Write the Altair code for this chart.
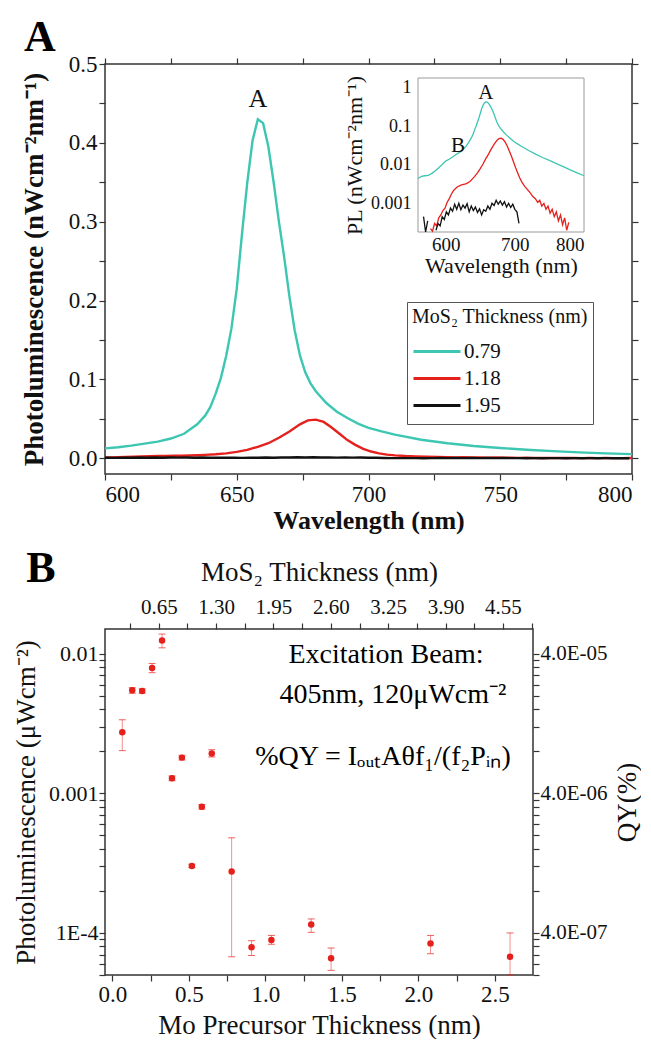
import altair as alt
import pandas as pd

FONT = "Liberation Serif"
INK = "#111111"
FRAME = "#333333"

# ---------------- Panel A data ----------------
SERIES = ["0.79", "1.18", "1.95"]
COLORS = ["#3dc6b1", "#e5211d", "#111111"]

TEAL_WL = [550, 555, 560, 565, 570, 575, 580, 585, 590, 595,
           600, 605, 610, 615, 620, 625, 630, 635, 638, 640,
           642, 644, 646, 648, 650, 652, 654, 656, 658, 660,
           662, 664, 666, 668, 670, 672, 674, 676, 678, 680,
           684, 688, 692, 696, 700, 705, 710, 720, 730, 740,
           750, 760, 770, 780, 790, 800]
TEAL_PL = [0.0036, 0.0040, 0.0044, 0.0050, 0.0052, 0.0053, 0.0060, 0.0070, 0.0084, 0.0102,
           0.0125, 0.0140, 0.0160, 0.0185, 0.0210, 0.0250, 0.0310, 0.0430, 0.0540, 0.0650,
           0.0820, 0.1020, 0.1300, 0.1650, 0.2150, 0.2850, 0.3500, 0.4030, 0.4300, 0.4250,
           0.3950, 0.3500, 0.3000, 0.2550, 0.2050, 0.1620, 0.1300, 0.1090, 0.0950, 0.0850,
           0.0700, 0.0590, 0.0510, 0.0440, 0.0385, 0.0340, 0.0300, 0.0235, 0.0190, 0.0155,
           0.0130, 0.0108, 0.0090, 0.0074, 0.0062, 0.0052]

RED_WL = [550, 560, 570, 575, 578, 581, 584, 587, 590, 593,
          596, 599, 602, 605, 608, 611, 614, 617, 620, 623,
          626, 629, 632, 635, 638, 642, 646, 650, 654, 658,
          662, 666, 670, 674, 677, 680, 683, 686, 689, 692,
          695, 698, 701, 704, 707, 710, 714, 718, 722, 726,
          730, 733, 736, 739, 742, 745, 748, 751, 754, 757,
          760, 763, 766, 769, 772, 775, 778, 781, 784, 787,
          790, 793, 796, 800]
RED_PL = [0.00005, 0.00008, 0.00012, 0.00016, 0.00022, 0.00019, 0.00030, 0.00026, 0.00042, 0.00050,
          0.00065, 0.00075, 0.00105, 0.00130, 0.00170, 0.00210, 0.00240, 0.00270, 0.00285, 0.00300,
          0.00310, 0.00320, 0.00340, 0.00370, 0.00420, 0.00500, 0.00620, 0.00800, 0.01050, 0.01450,
          0.01900, 0.02600, 0.03400, 0.04300, 0.04800, 0.04900, 0.04600, 0.03900, 0.03100, 0.02300,
          0.01700, 0.01200, 0.00850, 0.00620, 0.00460, 0.00360, 0.00280, 0.00230, 0.00190, 0.00150,
          0.00130, 0.00105, 0.00120, 0.00085, 0.00100, 0.00070, 0.00085, 0.00055, 0.00070, 0.00045,
          0.00060, 0.00035, 0.00050, 0.00028, 0.00042, 0.00020, 0.00032, 0.00014, 0.00025, 0.00012,
          0.00020, 0.00010, 0.00016, 0.00030]

BLACK_WL = [553, 556, 559, 562, 565, 568, 571, 574, 577, 580,
            583, 586, 589, 592, 595, 598, 601, 604, 607, 610,
            613, 616, 619, 622, 625, 628, 631, 634, 637, 640,
            643, 646, 649, 652, 655, 658, 661, 664, 667, 670,
            673, 676, 679, 682, 685, 688, 691, 694, 697, 700,
            703, 706, 709, 712, 715, 718, 721, 724, 727, 730,
            733, 736, 739, 742, 745, 748, 751, 754, 757, 760,
            763, 766, 769, 772, 775, 778, 781, 784, 787, 790,
            793, 796, 799]
BLACK_PL = [0.00012, 0.00042, 0.00010, 0.00030, 0.00015, 0.00045, 0.00018, 0.00035, 0.00012, 0.00022,
            0.00014, 0.00020, 0.00030, 0.00026, 0.00045, 0.00038, 0.00060, 0.00050, 0.00075, 0.00062,
            0.00095, 0.00070, 0.00100, 0.00068, 0.00090, 0.00075, 0.00098, 0.00060, 0.00085, 0.00065,
            0.00080, 0.00058, 0.00072, 0.00050, 0.00068, 0.00062, 0.00085, 0.00070, 0.00100, 0.00088,
            0.00120, 0.00095, 0.00115, 0.00090, 0.00110, 0.00080, 0.00100, 0.00078, 0.00095, 0.00070,
            0.00060, 0.00030, 0.00016, 0.00010, 0.00008, 0.00010, 0.00007, 0.00010, 0.00030, 0.00012,
            0.00038, 0.00015, 0.00032, 0.00010, 0.00028, 0.00012, 0.00022, 0.00008, 0.00010, 0.00007,
            0.00009, 0.00007, 0.00010, 0.00008, 0.00006, 0.00009, 0.00007, 0.00008, 0.00006, 0.00008,
            0.00007, 0.00006, 0.00007]

A_X_TICKS = [600, 625, 650, 675, 700, 725, 750, 775, 800]
A_Y_TICKS = [0.0, 0.05, 0.1, 0.15, 0.2, 0.25, 0.3, 0.35, 0.4, 0.45, 0.5]
INSET_X_TICKS = [600, 700, 800]
INSET_Y_TICKS = [0.001, 0.01, 0.1, 1]
PEAK_LABEL = ["A"]
PEAK_WL = [658]
PEAK_PL = [0.455]
INSET_LABELS = ["A", "B"]
INSET_LABEL_WL = [658, 618]
INSET_LABEL_PL = [0.74, 0.030]

# ---------------- Panel B data ----------------
MO = [0.065, 0.13, 0.195, 0.26, 0.325, 0.39, 0.455, 0.52, 0.585, 0.65,
      0.78, 0.91, 1.04, 1.30, 1.43, 2.08, 2.60]
PL = [0.00273, 0.00546, 0.00540, 0.00790, 0.01240, 0.00128, 0.00180, 0.000302, 0.00080, 0.00193,
      0.000275, 0.0000789, 0.0000892, 0.000115, 0.0000658, 0.0000842, 0.0000676]
PL_LO = [0.00202, 0.00520, 0.00520, 0.00730, 0.01100, 0.00123, 0.00173, 0.000294, 0.00077, 0.00182,
         0.0000675, 0.0000690, 0.0000830, 0.000101, 0.0000540, 0.0000710, 0.0000500]
PL_HI = [0.00336, 0.00570, 0.00560, 0.00850, 0.01380, 0.00133, 0.00187, 0.000310, 0.00083, 0.00205,
         0.000480, 0.0000880, 0.0000960, 0.000126, 0.0000780, 0.0000960, 0.000100]
B_X_TICKS = [0.0, 0.25, 0.5, 0.75, 1.0, 1.25, 1.5, 1.75, 2.0, 2.25, 2.5]
B_TOP_TICKS = [0.325, 0.65, 0.975, 1.30, 1.625, 1.95, 2.275, 2.60, 2.925, 3.25,
               3.575, 3.90, 4.225, 4.55, 4.875]
QY_PER_PL = 0.004
B_NOTES = ["Excitation Beam:", "405nm, 120μWcm⁻²", "%QY = IₒᵤₜAθf₁/(f₂Pᵢₙ)"]

# ---------------- layout / style ----------------
W_A, H_A = 527, 410
W_B, H_B = 428, 346
A_X_DOM = [600, 800]
A_Y_DOM = [-0.02, 0.5]
INSET_X_DOM = [560, 800]
INSET_Y_DOM = [0.00018, 1.8]
INSET_X_RANGE = [313, 479]
INSET_Y_RANGE = [168, 14]
B_X_DOM = [-0.048, 2.75]
B_Y_DOM = [5e-5, 0.015]
B_TOP_DOM = [0.041, 4.89]
B_QY_DOM = [B_Y_DOM[0] * QY_PER_PL, B_Y_DOM[1] * QY_PER_PL]
B_NOTE_POS = [(281, 26), (288, 66), (278, 128)]
TICK = 6

B_Y_TICKS = [m * 10.0 ** e for e in (-5, -4, -3, -2) for m in range(1, 10)
             if B_Y_DOM[0] <= m * 10.0 ** e <= B_Y_DOM[1]]
B_QY_TICKS = [v * QY_PER_PL for v in B_Y_TICKS]

MAJ_LOG = "abs(log(datum.value)/LN10 - round(log(datum.value)/LN10)) < 0.001"
MAJ_QY = "abs(log(datum.value/0.004)/LN10 - round(log(datum.value/0.004)/LN10)) < 0.001"


def lin(dom, rng=None):
    if rng is None:
        return alt.Scale(domain=dom, nice=False, zero=False)
    return alt.Scale(domain=dom, range=rng, nice=False, zero=False)


def logs(dom, rng=None):
    if rng is None:
        return alt.Scale(type="log", domain=dom, nice=False)
    return alt.Scale(type="log", domain=dom, range=rng, nice=False)


def lab_axis(orient, values, title, lsize, tsize, lpad, tpad, weight="normal", ticks=True, **kw):
    extra = dict(tickSize=TICK, tickColor=FRAME, tickWidth=1.2) if ticks else {}
    return alt.Axis(orient=orient, values=values, ticks=ticks, domain=False, grid=False,
                    labelFont=FONT, labelFontSize=lsize, labelColor=INK, labelPadding=lpad,
                    title=title, titleFont=FONT, titleFontSize=tsize, titleColor=INK,
                    titleFontWeight=weight, titlePadding=tpad, **extra, **kw)


def mirror_axis(orient, values):
    return alt.Axis(orient=orient, values=values, ticks=True, tickSize=TICK, tickColor=FRAME,
                    tickWidth=1.2, domain=False, grid=False, labelExpr="''",
                    labelFontSize=1, labelPadding=0, title=None)


def pixel_text(txt, px, py, size, weight="normal"):
    return alt.Chart(pd.DataFrame({"t": [txt]})).mark_text(
        font=FONT, fontSize=size, fontWeight=weight, color="#000000"
    ).encode(x=alt.value(px), y=alt.value(py), text="t:N")


# ---------------- Panel A ----------------
dfA = pd.concat([
    pd.DataFrame({"wl": TEAL_WL, "pl": TEAL_PL, "series": SERIES[0]}),
    pd.DataFrame({"wl": RED_WL, "pl": RED_PL, "series": SERIES[1]}),
    pd.DataFrame({"wl": BLACK_WL, "pl": BLACK_PL, "series": SERIES[2]}),
], ignore_index=True)
domA = pd.DataFrame({"x": A_X_DOM, "y": A_Y_DOM})
color_scale = alt.Scale(domain=SERIES, range=COLORS)
sAx, sAy = lin(A_X_DOM), lin(A_Y_DOM)
sIx, sIy = lin(INSET_X_DOM, INSET_X_RANGE), logs(INSET_Y_DOM, INSET_Y_RANGE)

legA = alt.Legend(orient="none", legendX=302, legendY=238, direction="vertical",
                  title="MoS₂ Thickness (nm)", titleFont=FONT, titleFontSize=20,
                  titleFontWeight="normal", titleColor=INK, titlePadding=11,
                  labelFont=FONT, labelFontSize=21, labelColor=INK, labelOffset=2,
                  symbolType="stroke", symbolSize=2209, symbolStrokeWidth=3,
                  clipHeight=27, rowPadding=0,
                  strokeColor="#555555", fillColor="white", padding=5)

mainA = alt.Chart(dfA).mark_line(clip=True, strokeWidth=2.4).encode(
    x=alt.X("wl:Q", scale=sAx,
            axis=lab_axis("bottom", A_X_TICKS, "Wavelength (nm)", 23, 26, 3, 1, "bold",
                          labelExpr="datum.value % 50 === 0 ? datum.label : ''")),
    y=alt.Y("pl:Q", scale=sAy,
            axis=lab_axis("left", A_Y_TICKS, "Photoluminescence (nWcm⁻²nm⁻¹)", 23, 27, 2, 20, "bold",
                          format=".1f",
                          labelExpr="abs(datum.value*10 - round(datum.value*10)) < 0.001 ? datum.label : ''")),
    color=alt.Color("series:N", scale=color_scale, legend=legA),
)

mirrorA = alt.Chart(domA).mark_point(opacity=0).encode(
    x=alt.X("x:Q", scale=sAx, axis=mirror_axis("top", A_X_TICKS)),
    y=alt.Y("y:Q", scale=sAy, axis=mirror_axis("right", A_Y_TICKS)),
)

insetA = alt.Chart(dfA).transform_calculate(
    pl_in=f"(datum.wl >= {INSET_X_DOM[0]} && datum.pl >= {INSET_Y_DOM[0]}) ? datum.pl : null"
).mark_line(strokeWidth=1.3, invalid="break-paths-filter-domains").encode(
    x=alt.X("wl:Q", scale=sIx,
            axis=lab_axis("bottom", INSET_X_TICKS, "Wavelength (nm)", 19, 22, 3, 1, ticks=False,
                          format="d", offset=-(H_A - INSET_Y_RANGE[0]))),
    y=alt.Y("pl_in:Q", scale=sIy,
            axis=lab_axis("left", INSET_Y_TICKS, "PL (nWcm⁻²nm⁻¹)", 18, 22, 7, 4, ticks=False,
                          offset=-INSET_X_RANGE[0],
                          labelExpr="datum.value >= 0.5 ? '1' : (datum.value >= 0.05 ? '0.1' : (datum.value >= 0.005 ? '0.01' : '0.001'))")),
    color=alt.Color("series:N", scale=color_scale, legend=None),
)

frameI = alt.Chart(pd.DataFrame({"x1": [INSET_X_DOM[0]], "x2": [INSET_X_DOM[1]],
                                 "y1": [INSET_Y_DOM[0]], "y2": [INSET_Y_DOM[1]]})).mark_rect(
    fillOpacity=0, stroke="#9a9a9a", strokeWidth=1).encode(
    x=alt.X("x1:Q", scale=sIx, axis=None), x2="x2:Q",
    y=alt.Y("y1:Q", scale=sIy, axis=None), y2="y2:Q",
)

peakA = alt.Chart(pd.DataFrame({"wl": PEAK_WL, "pl": PEAK_PL, "t": PEAK_LABEL})).mark_text(
    font=FONT, fontSize=26, color=INK).encode(
    x=alt.X("wl:Q", scale=sAx, axis=None),
    y=alt.Y("pl:Q", scale=sAy, axis=None), text="t:N")

insetLab = alt.Chart(pd.DataFrame({"wl": INSET_LABEL_WL, "pl": INSET_LABEL_PL, "t": INSET_LABELS})).mark_text(
    font=FONT, fontSize=21, color=INK).encode(
    x=alt.X("wl:Q", scale=sIx, axis=None),
    y=alt.Y("pl:Q", scale=sIy, axis=None), text="t:N")

anchor = alt.Chart(pd.DataFrame({"a": [0]})).mark_point(
    opacity=0, size=1, shape="square", filled=True).encode(x=alt.value(-103), y=alt.value(-62))

panelA = alt.layer(
    mainA, mirrorA, frameI, insetA, peakA, insetLab,
    pixel_text("A", -65, -26, 44, "bold"), anchor,
).resolve_scale(x="independent", y="independent", color="independent").properties(
    width=W_A, height=H_A)

# ---------------- Panel B ----------------
dfB = pd.DataFrame({"mo": MO, "pl": PL, "lo": PL_LO, "hi": PL_HI})
domB = pd.DataFrame({"t": B_TOP_DOM, "q": B_QY_DOM})
RED = COLORS[1]
sBx, sBy, sBt, sBq = lin(B_X_DOM), logs(B_Y_DOM), lin(B_TOP_DOM), logs(B_QY_DOM)

pointsB = alt.Chart(dfB).mark_circle(size=42, color=RED, opacity=1).encode(
    x=alt.X("mo:Q", scale=sBx,
            axis=lab_axis("bottom", B_X_TICKS, "Mo Precursor Thickness (nm)", 23, 27, 2, 6,
                          format=".1f",
                          labelExpr="abs(datum.value*2 - round(datum.value*2)) < 0.001 ? datum.label : ''")),
    y=alt.Y("pl:Q", scale=sBy,
            axis=lab_axis("left", B_Y_TICKS, "Photoluminescence (μWcm⁻²)", 22, 27, 1, 8,
                          labelExpr=f"{MAJ_LOG} ? (datum.value < 0.0005 ? '1E-4' : (datum.value < 0.005 ? '0.001' : '0.01')) : ''")),
)
errB = alt.Chart(dfB).mark_rule(color=RED, strokeWidth=1, opacity=0.5).encode(
    x=alt.X("mo:Q", scale=sBx, axis=None),
    y=alt.Y("lo:Q", scale=sBy, axis=None), y2="hi:Q")
capLo = alt.Chart(dfB).mark_tick(color=RED, orient="horizontal", size=7, thickness=1, opacity=0.7).encode(
    x=alt.X("mo:Q", scale=sBx, axis=None),
    y=alt.Y("lo:Q", scale=sBy, axis=None))
capHi = alt.Chart(dfB).mark_tick(color=RED, orient="horizontal", size=7, thickness=1, opacity=0.7).encode(
    x=alt.X("mo:Q", scale=sBx, axis=None),
    y=alt.Y("hi:Q", scale=sBy, axis=None))

labelsB = alt.Chart(domB).mark_point(opacity=0).encode(
    x=alt.X("t:Q", scale=sBt,
            axis=lab_axis("top", B_TOP_TICKS, "MoS₂ Thickness (nm)", 21, 27, 6, 10, format=".2f",
                          labelExpr="abs(datum.value/0.65 - round(datum.value/0.65)) < 0.001 ? datum.label : ''")),
    y=alt.Y("q:Q", scale=sBq,
            axis=lab_axis("right", B_QY_TICKS, "QY(%)", 21, 27, 1, 7, titleAngle=270,
                          titleBaseline="top",
                          labelExpr=f"{MAJ_QY} ? (datum.value < 1e-6 ? '4.0E-07' : (datum.value < 1e-5 ? '4.0E-06' : '4.0E-05')) : ''")),
)

notes = [pixel_text(t, p[0], p[1], 28) for t, p in zip(B_NOTES, B_NOTE_POS)]

panelB = alt.layer(
    pointsB, labelsB, errB, capLo, capHi, *notes,
    pixel_text("B", -64, -60, 44, "bold"),
).resolve_scale(x="independent", y="independent").properties(width=W_B, height=H_B)

chart = alt.vconcat(panelA, panelB, spacing=155, bounds="flush").properties(
    padding=0
).configure(background="white").configure_view(stroke=FRAME, strokeWidth=1.5)

chart.save("out.html", embed_options={"renderer": "svg", "actions": False})
